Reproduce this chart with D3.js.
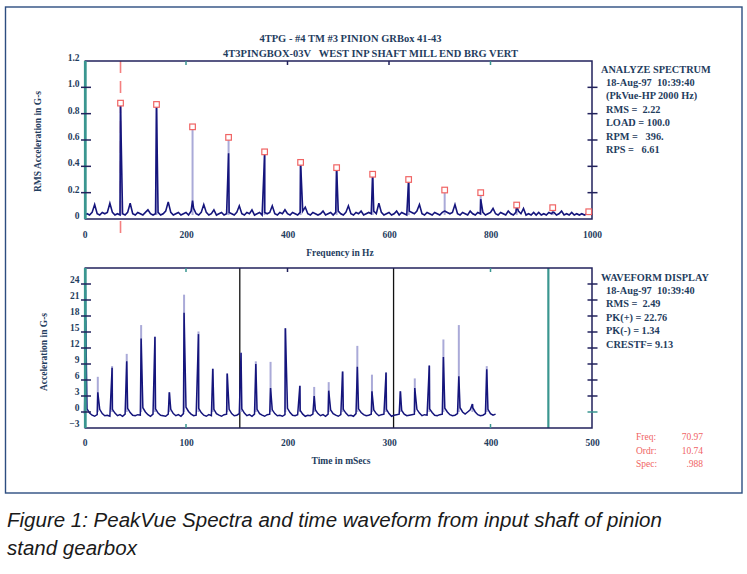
<!DOCTYPE html>
<html>
<head>
<meta charset="utf-8">
<script src="https://cdn.jsdelivr.net/npm/d3@7"></script>
<style>
  body { margin: 0; background: #fff; }
</style>
</head>
<body>
<svg id="chart" width="747" height="574"></svg>
<script>
// ---- spectrum data ----
// harmonics of the input shaft (Hz), full level and how high the dark part of the line goes
const harmonicFreqs = [71.0, 141.9, 212.9, 283.9, 354.9, 425.8, 496.8, 567.8, 638.7, 709.7, 780.7, 851.6, 922.6, 993.6];
const harmonicAmps  = [0.88, 0.87, 0.70, 0.62, 0.51, 0.43, 0.39, 0.34, 0.30, 0.22, 0.20, 0.106, 0.086, 0.055];
const harmonicDark  = [0.86, 0.87, 0.14, 0.50, 0.49, 0.43, 0.39, 0.34, 0.30, 0.06, 0.15, 0.10, 0.05, 0.04];

// noise floor, one value every 5 Hz from 0 to 1000 Hz
const floorStep = 5;
const floorAmps = [
  0.03, 0.04, 0.03, 0.05, 0.11, 0.04, 0.03, 0.05, 0.04, 0.05, 0.12, 0.05, 0.03, 0.04, 0.03, 0.04, 0.03, 0.05, 0.12, 0.04,
  0.03, 0.05, 0.04, 0.03, 0.05, 0.07, 0.04, 0.03, 0.04, 0.05, 0.03, 0.04, 0.06, 0.13, 0.05, 0.03, 0.04, 0.05, 0.03, 0.04,
  0.05, 0.03, 0.06, 0.08, 0.04, 0.03, 0.05, 0.11, 0.05, 0.03, 0.04, 0.07, 0.03, 0.04, 0.05, 0.03, 0.04, 0.05, 0.04, 0.03,
  0.05, 0.10, 0.04, 0.03, 0.05, 0.04, 0.07, 0.03, 0.04, 0.05, 0.03, 0.05, 0.04, 0.05, 0.10, 0.04, 0.03, 0.05, 0.04, 0.07,
  0.04, 0.03, 0.05, 0.04, 0.03, 0.05, 0.06, 0.09, 0.04, 0.03, 0.05, 0.04, 0.03, 0.04, 0.06, 0.03, 0.04, 0.05, 0.03, 0.05,
  0.06, 0.04, 0.03, 0.05, 0.10, 0.04, 0.03, 0.05, 0.04, 0.06, 0.03, 0.04, 0.05, 0.04, 0.06, 0.04, 0.12, 0.05, 0.03, 0.04,
  0.05, 0.03, 0.04, 0.06, 0.03, 0.05, 0.04, 0.03, 0.06, 0.05, 0.04, 0.06, 0.11, 0.04, 0.03, 0.05, 0.04, 0.03, 0.05, 0.04,
  0.03, 0.05, 0.06, 0.05, 0.04, 0.05, 0.11, 0.04, 0.03, 0.05, 0.04, 0.03, 0.06, 0.04, 0.03, 0.05, 0.04, 0.05, 0.03, 0.04,
  0.05, 0.08, 0.04, 0.03, 0.05, 0.04, 0.03, 0.06, 0.04, 0.03, 0.05, 0.06, 0.04, 0.08, 0.03, 0.04, 0.03, 0.05, 0.03, 0.05,
  0.03, 0.04, 0.03, 0.05, 0.04, 0.05, 0.03, 0.04, 0.06, 0.03, 0.04, 0.03, 0.05, 0.03, 0.04, 0.03, 0.04, 0.03, 0.04, 0.05,
  0.03
];
const freqCursor = 70.97;

const freqTicks = [0, 200, 400, 600, 800, 1000];
const rmsTicks = [0, 0.2, 0.4, 0.6, 0.8, 1.0, 1.2];

// ---- waveform data ----
const peakTimes  = [1.2, 13.1, 27.2, 41.6, 55.8, 69.4, 83.6, 98.1, 112.3, 126.4, 140.6, 154.2, 168.8, 183.3, 197.9,
                    212.2, 226.3, 240.6, 254.3, 268.8, 283.2, 297.1, 311.2, 325.4, 339.7, 353.6, 368.8, 382.2, 396.3];
const peakLevels = [22.9, 6.6, 8.6, 10.9, 16.3, 14.1, 3.7, 22.0, 15.1, 8.1, 7.2, 11.1, 9.5, 9.4, 15.7,
                    4.9, 4.7, 5.6, 7.6, 12.4, 7.0, 7.4, 3.9, 6.3, 8.7, 13.6, 16.3, 1.5, 8.6];
const peakDark   = [17.2, 3.7, 8.3, 9.5, 13.8, 14.1, 3.7, 18.6, 14.6, 8.1, 7.2, 11.1, 9.0, 4.5, 15.7,
                    4.9, 3.0, 4.0, 7.6, 8.5, 3.9, 7.4, 3.9, 4.5, 8.7, 10.3, 6.7, 1.5, 8.0];

// baseline between impacts, one value every 2.5 ms from 0 to 405 ms
const baseStep = 2.5;
const baseLevels = [
  -0.3, 0.6, -0.2, -0.6, -0.8, -0.5, 0.5, -0.3, -0.7, -0.6, -0.8, 0.5, -0.2, -0.7, -0.5, -0.8, -0.4, 0.7, -0.1, -0.6,
  -0.7, -0.5, -0.6, 0.8, 0.0, -0.5, -0.8, -0.4, 0.6, -0.2, -0.6, -0.7, -0.8, -0.4, 0.5, -0.3, -0.7, -0.5, -0.8, -0.3,
  0.9, 0.1, -0.4, -0.7, -0.6, 0.7, -0.1, -0.6, -0.8, -0.5, -0.7, 0.5, -0.3, -0.6, -0.8, -0.5, -0.4, 0.5, -0.3, -0.7,
  -0.6, -0.3, 0.6, -0.2, -0.7, -0.5, -0.8, -0.4, 0.5, -0.3, -0.6, -0.8, -0.5, -0.4, 0.4, -0.3, -0.7, -0.6, -0.8, -0.5,
  0.7, -0.1, -0.6, -0.7, -0.5, 0.3, -0.4, -0.8, -0.6, -0.7, -0.4, 0.4, -0.3, -0.7, -0.5, -0.8, -0.4, 0.4, -0.3, -0.6,
  -0.8, -0.5, 0.5, -0.2, -0.7, -0.6, -0.8, -0.3, 0.6, -0.1, -0.5, -0.7, -0.6, -0.4, 0.4, -0.3, -0.7, -0.5, -0.4, 0.5,
  -0.3, -0.8, -0.6, -0.5, -0.4, 0.3, -0.4, -0.7, -0.6, -0.5, -0.4, 0.5, -0.2, -0.7, -0.5, -0.6, 0.6, -0.1, -0.6, -0.7,
  -0.5, -0.4, 0.7, 0.0, -0.5, -0.7, -0.6, -0.3, 0.8, 0.0, -0.4, 0.0, 0.4, 0.8, 0.0, -0.5, -0.7, -0.6, -0.3, 0.5,
  -0.3, -0.6, -0.4
];
const timeCursors = [153, 304.5];
const periodCursor = 457;

const timeTicks = [0, 100, 200, 300, 400, 500];
const accelTicks = [-3, 0, 3, 6, 9, 12, 15, 18, 21, 24];

// ---- text ----
const titleLines = ["4TPG - #4 TM #3 PINION GRBox 41-43", "4T3PINGBOX-03V   WEST INP SHAFT MILL END BRG VERT"];
const spectrumInfo = ["ANALYZE SPECTRUM", "18-Aug-97  10:39:40", "(PkVue-HP 2000 Hz)", "RMS =  2.22", "LOAD = 100.0", "RPM =   396.", "RPS =   6.61"];
const waveformInfo = ["WAVEFORM DISPLAY", "18-Aug-97  10:39:40", "RMS =  2.49", "PK(+) = 22.76", "PK(-) = 1.34", "CRESTF= 9.13"];
const cursorNames = ["Freq:", "Ordr:", "Spec:"];
const cursorValues = ["70.97", "10.74", ".988"];
const captionLines = ["Figure 1: PeakVue Spectra and time waveform from input shaft of pinion", "stand gearbox"];

// colours
const ink = "#1f3d5e", frameCol = "#22225c", teal = "#3a9690", trace = "#15157c", lav = "#aaaad8", red = "#f06464";
const serif = "'Liberation Serif', 'Times New Roman', serif";

const svg = d3.select("#chart");

// outer box round the two plots
svg.append("rect")
    .attr("x", 5.5).attr("y", 7).attr("width", 736.5).attr("height", 486)
    .attr("fill", "none").attr("stroke", "#2d4d80").attr("stroke-width", 1.4);

// titles
svg.selectAll("text.title")
    .data(titleLines)
    .enter().append("text")
    .attr("class", "title")
    .attr("x", (d, i) => i === 0 ? 350.5 : 370.5)
    .attr("y", (d, i) => i === 0 ? 42 : 56.5)
    .attr("text-anchor", "middle")
    .style("white-space", "pre")
    .style("font", `bold 10.5px ${serif}`)
    .attr("fill", ink)
    .text(d => d);

function tickMarks(g, values, scale, orient, pos, len, colorFn) {
    g.selectAll(null)
        .data(values)
        .enter().append("line")
        .attr("x1", d => orient === "h" ? pos - len[0] : scale(d))
        .attr("x2", d => orient === "h" ? pos + len[1] : scale(d))
        .attr("y1", d => orient === "h" ? scale(d) : pos - len[0])
        .attr("y2", d => orient === "h" ? scale(d) : pos + len[1])
        .attr("stroke", (d, i) => colorFn ? colorFn(d, i) : frameCol)
        .attr("stroke-width", 1.5);
}

function styleAxisText(sel, dy) {
    sel.select(".domain").remove();
    sel.selectAll(".tick line").remove();
    sel.selectAll("text")
        .attr("dy", dy)
        .style("font", `bold 9.5px ${serif}`)
        .attr("fill", ink);
}

// ================= spectrum panel =================
const fx = d3.scaleLinear().domain([0, 1000]).range([84.5, 592]);
const fy = d3.scaleLinear().domain([0, 1.2]).range([219, 61]);
const specG = svg.append("g");

// red frequency cursor (drawn first, peaks cover it)
specG.append("line")
    .attr("x1", fx(freqCursor)).attr("x2", fx(freqCursor))
    .attr("y1", fy(1.2)).attr("y2", 233)
    .attr("stroke", "#f47f7f").attr("stroke-width", 1.6)
    .attr("stroke-dasharray", "12,8");

// light upper parts of the harmonic lines
specG.selectAll("line.harm")
    .data(harmonicFreqs)
    .enter().append("line")
    .attr("class", "harm")
    .attr("x1", d => fx(d)).attr("x2", d => fx(d))
    .attr("y1", fy(0.03)).attr("y2", (d, i) => fy(harmonicAmps[i]))
    .attr("stroke", lav).attr("stroke-width", 2);

// dark trace: noise floor with the harmonics dropped in
const specPts = floorAmps.map((a, i) => [i * floorStep, a])
    .concat(harmonicFreqs.map((f, i) => [f, harmonicDark[i]]))
    .sort((a, b) => a[0] - b[0]);
specG.append("path")
    .datum(specPts)
    .attr("fill", "none")
    .attr("stroke", trace).attr("stroke-width", 1.6)
    .attr("d", d3.line().x(d => fx(d[0])).y(d => fy(d[1])));

// frame
specG.append("path")
    .attr("d", `M${fx(0)},${fy(1.2)}H${fx(1000)}V${fy(0)}H${fx(0)}`)
    .attr("fill", "none").attr("stroke", frameCol).attr("stroke-width", 1.5);
specG.append("line")
    .attr("x1", fx(0) + 0.8).attr("x2", fx(0) + 0.8).attr("y1", fy(1.2)).attr("y2", fy(0))
    .attr("stroke", teal).attr("stroke-width", 2.8);

// peak markers
specG.selectAll("rect.mark")
    .data(harmonicFreqs)
    .enter().append("rect")
    .attr("class", "mark")
    .attr("x", d => fx(d) - 2.8)
    .attr("y", (d, i) => fy(harmonicAmps[i]) - 2.8)
    .attr("width", 5.6).attr("height", 5.6)
    .attr("fill", "#fff").attr("stroke", red).attr("stroke-width", 1.2);

// ticks
tickMarks(specG, rmsTicks.slice(1, 6), fy, "h", fx(0), [3.5, 6.5]);
tickMarks(specG, rmsTicks.slice(1, 6), fy, "h", fx(1000), [4.5, 5.5]);
tickMarks(specG, freqTicks.slice(1, 5), fx, "v", fy(1.2), [0, 4], d => (d === 200 || d === 800) ? teal : frameCol);

specG.append("g")
    .attr("transform", `translate(${fx(0) - 1},0)`)
    .call(d3.axisLeft(fy).tickValues(rmsTicks).tickSize(0).tickPadding(4)
        .tickFormat(d => d === 0 ? "0" : d3.format(".1f")(d)))
    .call(g => styleAxisText(g, "-0.05em"));
specG.append("g")
    .attr("transform", `translate(0,${fy(0) + 16})`)
    .call(d3.axisBottom(fx).tickValues(freqTicks).tickSize(0).tickPadding(0).tickFormat(d3.format("d")))
    .call(g => styleAxisText(g, "0.3em"));

specG.append("text")
    .attr("x", 340).attr("y", 255.5)
    .attr("text-anchor", "middle")
    .style("font", `bold 9.5px ${serif}`).attr("fill", ink)
    .text("Frequency in Hz");
specG.append("text")
    .attr("transform", "translate(40.5,141.5) rotate(-90)")
    .attr("text-anchor", "middle")
    .style("font", `bold 9.5px ${serif}`).attr("fill", ink)
    .text("RMS Acceleration in G-s");

// ================= waveform panel =================
const tx = d3.scaleLinear().domain([0, 500]).range([84.5, 592]);
const ty = d3.scaleLinear().domain([-3, 27]).range([428, 268]);
const waveG = svg.append("g");

// cursors
waveG.selectAll("line.cur")
    .data(timeCursors)
    .enter().append("line")
    .attr("class", "cur")
    .attr("x1", d => tx(d)).attr("x2", d => tx(d))
    .attr("y1", ty(27)).attr("y2", ty(-3))
    .attr("stroke", "#111").attr("stroke-width", 1.3);
waveG.append("line")
    .attr("x1", tx(periodCursor)).attr("x2", tx(periodCursor))
    .attr("y1", ty(27)).attr("y2", ty(-3))
    .attr("stroke", teal).attr("stroke-width", 2.2);

// light upper parts of impacts
waveG.selectAll("line.imp")
    .data(peakTimes)
    .enter().append("line")
    .attr("class", "imp")
    .attr("x1", d => tx(d)).attr("x2", d => tx(d))
    .attr("y1", ty(0)).attr("y2", (d, i) => ty(peakLevels[i]))
    .attr("stroke", lav).attr("stroke-width", 2);

const wavePts = baseLevels.map((v, i) => [i * baseStep, v])
    .concat(peakTimes.map((t, i) => [t, peakDark[i]]))
    .sort((a, b) => a[0] - b[0]);
waveG.append("path")
    .datum(wavePts)
    .attr("fill", "none")
    .attr("stroke", trace).attr("stroke-width", 1.5)
    .attr("d", d3.line().x(d => tx(d[0])).y(d => ty(d[1])));

waveG.append("path")
    .attr("d", `M${tx(0)},${ty(27)}H${tx(500)}V${ty(-3)}H${tx(0)}`)
    .attr("fill", "none").attr("stroke", frameCol).attr("stroke-width", 1.5);
waveG.append("line")
    .attr("x1", tx(0) + 0.8).attr("x2", tx(0) + 0.8).attr("y1", ty(27)).attr("y2", ty(-3))
    .attr("stroke", teal).attr("stroke-width", 2.8);

tickMarks(waveG, accelTicks.slice(1), ty, "h", tx(0), [3.5, 6.5]);
tickMarks(waveG, accelTicks.slice(1), ty, "h", tx(500), [4.5, 5.5], d => d === 0 ? teal : frameCol);
tickMarks(waveG, [100, 200, 400], tx, "v", ty(27), [0, 4], d => d === 200 ? frameCol : teal);
tickMarks(waveG, [100, 400], tx, "v", ty(-3), [4, 0], () => teal);

waveG.append("g")
    .attr("transform", `translate(${tx(0) - 1},0)`)
    .call(d3.axisLeft(ty).tickValues(accelTicks).tickSize(0).tickPadding(4).tickFormat(d3.format("d")))
    .call(g => styleAxisText(g, "-0.2em"));
waveG.append("g")
    .attr("transform", `translate(0,${ty(-3) + 15})`)
    .call(d3.axisBottom(tx).tickValues(timeTicks).tickSize(0).tickPadding(0))
    .call(g => styleAxisText(g, "0.3em"));

waveG.append("text")
    .attr("x", 341).attr("y", 464)
    .attr("text-anchor", "middle")
    .style("font", `bold 9.5px ${serif}`).attr("fill", ink)
    .text("Time in mSecs");
waveG.append("text")
    .attr("transform", "translate(46.5,352) rotate(-90)")
    .attr("text-anchor", "middle")
    .style("font", `bold 9.5px ${serif}`).attr("fill", ink)
    .text("Acceleration in G-s");

// ================= side notes =================
function infoBlock(lines, y0) {
    svg.append("g").selectAll("text")
        .data(lines)
        .enter().append("text")
        .attr("x", (d, i) => i === 0 ? 601 : 606)
        .attr("y", (d, i) => y0 + i * 13.45)
        .style("white-space", "pre")
        .style("font", `bold 10.3px ${serif}`)
        .attr("fill", ink)
        .text(d => d);
}
infoBlock(spectrumInfo, 72.5);
infoBlock(waveformInfo, 280.5);

svg.append("g").selectAll("text")
    .data(cursorNames)
    .enter().append("text")
    .attr("x", 636).attr("y", (d, i) => 440 + i * 13.5)
    .style("font", `9.5px ${serif}`).attr("fill", red)
    .text(d => d);
svg.append("g").selectAll("text")
    .data(cursorValues)
    .enter().append("text")
    .attr("x", 703).attr("y", (d, i) => 440 + i * 13.5)
    .attr("text-anchor", "end")
    .style("font", `9.5px ${serif}`).attr("fill", red)
    .text(d => d);

// caption under the box
svg.append("g").selectAll("text")
    .data(captionLines)
    .enter().append("text")
    .attr("x", 7).attr("y", (d, i) => 527 + i * 28)
    .style("font", "italic 20.5px 'Liberation Sans', Arial, sans-serif")
    .attr("fill", "#1a1a1a")
    .text(d => d);
</script>
</body>
</html>
